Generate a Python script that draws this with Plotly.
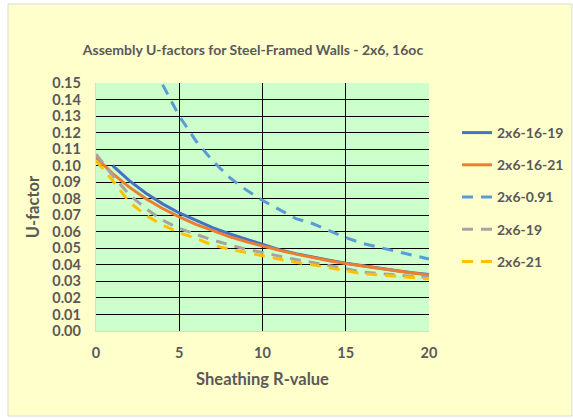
import plotly.graph_objects as go

# Sheathing R-value
r_0_20 = list(range(0, 21))
r_1_20 = list(range(1, 21))
r_4_20 = list(range(4, 21))

u_2x6_16_19 = [0.100, 0.0909, 0.0833, 0.0769, 0.0714, 0.0667, 0.0625, 0.0588, 0.0556, 0.0526,
               0.0492, 0.0468, 0.0447, 0.0428, 0.0410, 0.0394, 0.0379, 0.0366, 0.0353, 0.0341]
u_2x6_16_21 = [0.105, 0.0952, 0.0870, 0.0800, 0.0741, 0.0690, 0.0645, 0.0606, 0.0571, 0.0541, 0.0513,
               0.0488, 0.0465, 0.0444, 0.0425, 0.0408, 0.0392, 0.0377, 0.0364, 0.0351, 0.0339]
u_2x6_091 = [0.149, 0.130, 0.115, 0.103, 0.093, 0.0855, 0.079, 0.0735, 0.068, 0.065,
             0.0606, 0.0565, 0.053, 0.0507, 0.0485, 0.046, 0.0435]
u_2x6_19 = [0.107, 0.094, 0.0825, 0.074, 0.067, 0.062, 0.0585, 0.0550, 0.0522, 0.0495, 0.0475,
            0.0452, 0.0432, 0.0415, 0.0395, 0.0375, 0.0357, 0.0348, 0.0338, 0.0330, 0.0325]
u_2x6_21 = [0.103, 0.091, 0.078, 0.070, 0.064, 0.0595, 0.056, 0.052, 0.0495, 0.0475, 0.0455,
            0.0433, 0.0415, 0.040, 0.0383, 0.0363, 0.0347, 0.0339, 0.033, 0.0323, 0.0315]

y_ticks = [i / 100 for i in range(0, 16)]
y_tick_text = ["%.2f" % v for v in y_ticks]
x_ticks = [0, 5, 10, 15, 20]

TXT = "#595959"
FONT = "Lato"
DASH = "11px,8px"

W, H = 573, 418
L, R, T, B = 96, 144, 83, 87
PW, PH = W - L - R, H - T - B

series = [
    ("2x6-16-19", r_1_20, u_2x6_16_19, "#4472C4", "solid"),
    ("2x6-16-21", r_0_20, u_2x6_16_21, "#ED7D31", "solid"),
    ("2x6-0.91", r_4_20, u_2x6_091, "#5B9BD5", DASH),
    ("2x6-19", r_0_20, u_2x6_19, "#A5A5A5", DASH),
    ("2x6-21", r_0_20, u_2x6_21, "#FFC000", DASH),
]

fig = go.Figure()
for name, xs, ys, col, dash in series:
    fig.add_trace(go.Scatter(x=xs, y=ys, mode="lines", name="<b>%s</b>" % name, legendgroup=name,
                             line=dict(color=col, width=3, dash=dash)))

fig.update_layout(
    width=W, height=H,
    margin=dict(l=L, r=R, t=T, b=B, autoexpand=False),
    paper_bgcolor="white",
    plot_bgcolor="rgba(0,0,0,0)",
    font=dict(family=FONT, color=TXT, size=14),
    title=dict(text="<b>Assembly U-factors for Steel-Framed Walls - 2x6, 16oc</b>",
               x=253 / W, xanchor="center", y=1 - 50 / H, yanchor="middle",
               font=dict(family=FONT, size=14, color=TXT)),
    showlegend=True,
    legend=dict(x=(457 - L) / PW, xanchor="left", y=(H - B - 117) / PH, yanchor="top",
                font=dict(family=FONT, size=14, color=TXT), tracegroupgap=11,
                bgcolor="rgba(0,0,0,0)", itemwidth=30),
    shapes=[
        dict(type="rect", xref="paper", yref="paper",
             x0=(8 - L) / PW, x1=(572 - L) / PW,
             y0=(H - B - 416) / PH, y1=(H - B - 4) / PH,
             fillcolor="#FFFFCC", line=dict(color="#D9D9D9", width=1), layer="below"),
        dict(type="rect", xref="x domain", yref="y domain", x0=0, x1=1, y0=0, y1=1,
             fillcolor="#CCFFCC", line=dict(width=0), layer="below"),
    ],
)

fig.update_xaxes(range=[0, 20], tickvals=x_ticks, ticktext=["<b>%d</b>" % v for v in x_ticks],
                 showgrid=True, gridcolor="black", gridwidth=1.3,
                 zeroline=False, showline=True, linecolor="#D9D9D9", linewidth=1.3,
                 ticks="", ticklabelstandoff=8, tickfont=dict(family=FONT, size=14.5, color=TXT),
                 title=dict(text="<b>Sheathing R-value</b>", font=dict(family=FONT, size=16.5, color=TXT),
                            standoff=13))
fig.update_yaxes(range=[0, 0.15], tickvals=y_ticks, ticktext=["<b>%s</b>" % t for t in y_tick_text],
                 showgrid=True, gridcolor="black", gridwidth=1.3,
                 zeroline=False, showline=True, linecolor="#D9D9D9", linewidth=1.3,
                 ticks="", ticklabelstandoff=11, tickfont=dict(family=FONT, size=14.5, color=TXT),
                 title=dict(text="<b>U-factor</b>", font=dict(family=FONT, size=16.5, color=TXT),
                            standoff=8))

fig.write_html("out.html", config={"displayModeBar": False},
               post_script="document.body.style.margin='0px';")
